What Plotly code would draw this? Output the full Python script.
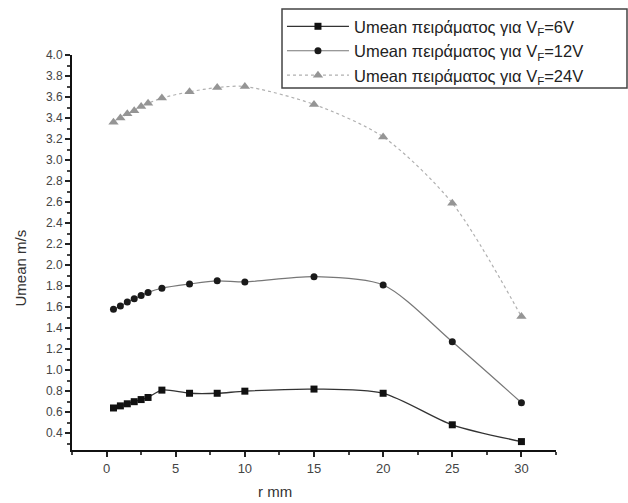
import plotly.graph_objects as go

r_mm = [0.5, 1.0, 1.5, 2.0, 2.5, 3.0, 4.0, 6.0, 8.0, 10.0, 15.0, 20.0, 25.0, 30.0]
u_6v = [0.64, 0.66, 0.68, 0.70, 0.72, 0.74, 0.81, 0.78, 0.78, 0.80, 0.82, 0.78, 0.48, 0.32]
u_12v = [1.58, 1.61, 1.65, 1.68, 1.71, 1.74, 1.78, 1.82, 1.85, 1.84, 1.89, 1.81, 1.27, 0.69]
u_24v = [3.36, 3.40, 3.44, 3.47, 3.51, 3.54, 3.59, 3.65, 3.69, 3.70, 3.53, 3.22, 2.59, 1.51]

names = ["Umean πειράματος για V<sub>F</sub>=6V",
         "Umean πειράματος για V<sub>F</sub>=12V",
         "Umean πειράματος για V<sub>F</sub>=24V"]
x_title = "r mm"
y_title = "Umean m/s"

fig = go.Figure()
fig.add_trace(go.Scatter(
    x=r_mm, y=u_6v, name=names[0], mode="lines+markers",
    line=dict(color="#333333", width=1.3, shape="spline", smoothing=0.8),
    marker=dict(symbol="square", size=7, color="#111111")))
fig.add_trace(go.Scatter(
    x=r_mm, y=u_12v, name=names[1], mode="lines+markers",
    line=dict(color="#777777", width=1.2, shape="spline", smoothing=0.8),
    marker=dict(symbol="circle", size=7, color="#1a1a1a")))
fig.add_trace(go.Scatter(
    x=r_mm, y=u_24v, name=names[2], mode="lines+markers",
    line=dict(color="#b0b0b0", width=1.2, shape="spline", smoothing=0.8, dash="dot"),
    marker=dict(symbol="triangle-up", size=9, color="#959595")))

fig.update_layout(
    width=628, height=503,
    margin=dict(l=72, r=72, t=55, b=53, autoexpand=False),
    paper_bgcolor="white", plot_bgcolor="white",
    font=dict(family="Liberation Sans, Arial, sans-serif", color="#333333"),
    legend=dict(x=0.449, y=0.982, xref="container", yref="container",
                xanchor="left", yanchor="top",
                bgcolor="rgba(0,0,0,0)", borderwidth=0,
                font=dict(size=16.5, color="#222222"),
                itemwidth=62, tracegroupgap=0),
    showlegend=True,
    shapes=[dict(type="rect", xref="paper", yref="paper",
                 x0=0.4339, x1=1.1467, y0=0.9165, y1=1.1165,
                 fillcolor="white", line=dict(color="#444444", width=1.5),
                 layer="above")],
    annotations=[
        dict(text=x_title, x=0.42, y=-0.105, xref="paper", yref="paper",
             xanchor="center", yanchor="middle", showarrow=False,
             font=dict(size=15, color="#333333")),
        dict(text=y_title, x=-0.107, y=0.46, xref="paper", yref="paper",
             xanchor="center", yanchor="middle", showarrow=False, textangle=-90,
             font=dict(size=15, color="#333333")),
    ],
)
fig.update_xaxes(
    range=[-2.5, 32.5], tick0=0, dtick=5, ticks="outside", ticklen=5,
    tickcolor="#222222", tickwidth=1.5,
    showline=True, linecolor="#111111", linewidth=2,
    showgrid=False, zeroline=False,
    tickfont=dict(size=13, color="#444444"),
    minor=dict(ticks="outside", dtick=2.5, tick0=0, ticklen=3, tickcolor="#444444"),
)
fig.update_yaxes(
    range=[0.24, 4.0], tick0=0, dtick=0.2, tickformat=".1f", ticks="outside",
    ticklen=5, tickcolor="#222222", tickwidth=1.5,
    showline=True, linecolor="#111111", linewidth=2,
    showgrid=False, zeroline=False,
    tickfont=dict(size=12, color="#444444"),
    minor=dict(ticks="outside", dtick=0.1, tick0=0, ticklen=3, tickcolor="#444444"),
)

fig.write_html("out.html")
